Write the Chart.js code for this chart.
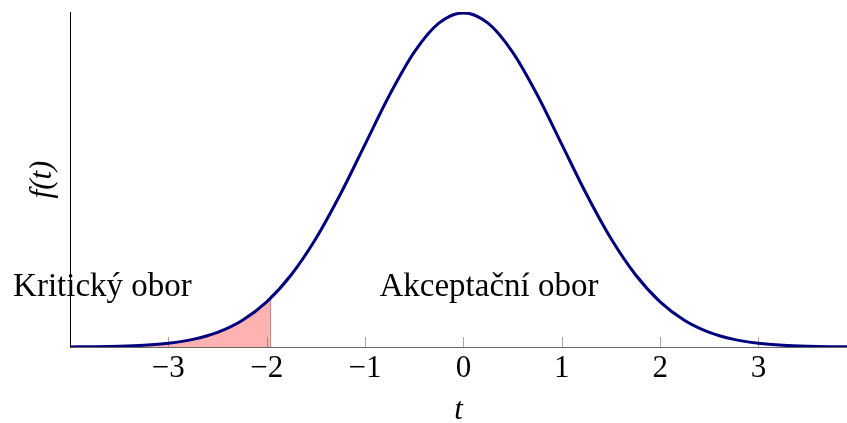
<!DOCTYPE html>
<html>
<head>
<meta charset="utf-8">
<script src="https://cdn.jsdelivr.net/npm/chart.js@4/dist/chart.umd.min.js"></script>
<style>
  html, body { margin: 0; padding: 0; background: #fff; }
  canvas { display: block; }
</style>
</head>
<body>
<canvas id="c" width="847" height="423"></canvas>
<script>
// Density curve f(t), sampled on a grid of t
const tValues = [-4, -3.75, -3.5, -3.25, -3, -2.75, -2.5, -2.25, -2, -1.75, -1.5, -1.25, -1, -0.75, -0.5, -0.25,
                 0, 0.25, 0.5, 0.75, 1, 1.25, 1.5, 1.75, 2, 2.25, 2.5, 2.75, 3, 3.25, 3.5, 3.75, 3.9];
const density = [0.00013, 0.00035, 0.00087, 0.00203, 0.00443, 0.00909, 0.01753, 0.03174, 0.05399, 0.08628,
                 0.12952, 0.18265, 0.24197, 0.30114, 0.35207, 0.38667, 0.39894, 0.38667, 0.35207, 0.30114,
                 0.24197, 0.18265, 0.12952, 0.08628, 0.05399, 0.03174, 0.01753, 0.00909, 0.00443, 0.00203,
                 0.00087, 0.00035, 0.0002];

// Critical region (left tail up to the critical value)
const criticalValue = -1.96;
const criticalDensity = 0.05844;
const critT = [-4, -3.75, -3.5, -3.25, -3, -2.75, -2.5, -2.25, -2, -1.96];
const critF = [0.00013, 0.00035, 0.00087, 0.00203, 0.00443, 0.00909, 0.01753, 0.03174, 0.05399, 0.05844];

// Axis ticks and labels
const xTicks = [-3, -2, -1, 0, 1, 2, 3];
const regionLabels = ['Kritický obor', 'Akceptační obor'];
const regionLabelT = [-3.67, 0.26];
const regionLabelY = 0.061;

const toPoints = (xs, ys) => xs.map((x, i) => ({ x: x, y: ys[i] }));
const fmtTick = v => (v < 0 ? '\u2212' + Math.abs(v) : String(v));

const SERIF = '"Liberation Serif", "DejaVu Serif", serif';

const tickMarks = {
  id: 'tickMarks',
  beforeDatasetsDraw(chart) {
    const { ctx, chartArea, scales } = chart;
    ctx.save();
    ctx.strokeStyle = '#a8a8a8';
    ctx.lineWidth = 1;
    xTicks.forEach(v => {
      const px = Math.round(scales.x.getPixelForValue(v)) + 0.5;
      ctx.beginPath();
      ctx.moveTo(px, chartArea.bottom);
      ctx.lineTo(px, chartArea.bottom - 10);
      ctx.stroke();
    });
    ctx.restore();
  }
};

const regionText = {
  id: 'regionText',
  afterDatasetsDraw(chart) {
    const { ctx, scales } = chart;
    ctx.save();
    ctx.font = '33px ' + SERIF;
    ctx.fillStyle = '#000';
    ctx.textAlign = 'center';
    ctx.textBaseline = 'alphabetic';
    regionLabels.forEach((txt, i) => {
      ctx.fillText(txt, scales.x.getPixelForValue(regionLabelT[i]), scales.y.getPixelForValue(regionLabelY));
    });
    ctx.restore();
  }
};

new Chart(document.getElementById('c'), {
  type: 'line',
  data: {
    datasets: [
      {
        label: 'f(t)',
        data: toPoints(tValues, density),
        borderColor: '#00007f',
        borderWidth: 3,
        pointRadius: 0,
        fill: false,
        cubicInterpolationMode: 'monotone'
      },
      {
        label: 'Kritický obor',
        data: toPoints(critT, critF),
        borderWidth: 0,
        borderColor: 'rgba(0,0,0,0)',
        backgroundColor: 'rgba(255,0,0,0.3)',
        pointRadius: 0,
        fill: 'origin',
        cubicInterpolationMode: 'monotone'
      },
      {
        label: 'hranice',
        data: [{ x: criticalValue, y: 0 }, { x: criticalValue, y: criticalDensity }],
        borderColor: '#9a9a9a',
        borderWidth: 1,
        pointRadius: 0,
        fill: false
      }
    ]
  },
  options: {
    responsive: false,
    animation: false,
    layout: { padding: { top: 12, right: 0, bottom: 0, left: 0 } },
    plugins: { legend: { display: false }, tooltip: { enabled: false } },
    scales: {
      x: {
        type: 'linear',
        min: -4,
        max: 3.9,
        afterBuildTicks: s => { s.ticks = xTicks.map(v => ({ value: v })); },
        afterFit: s => { s.height = 76; },
        grid: { display: true, drawOnChartArea: false, drawTicks: false },
        border: { display: true, color: '#666', width: 1 },
        ticks: {
          padding: 6,
          maxRotation: 0,
          autoSkip: false,
          color: '#000',
          font: { family: SERIF, size: 31, lineHeight: 1 },
          callback: fmtTick
        },
        title: {
          display: true,
          text: 't',
          color: '#000',
          padding: { top: 0, bottom: 0 },
          font: { family: SERIF, size: 31, style: 'italic', lineHeight: 0.8 }
        }
      },
      y: {
        type: 'linear',
        min: 0,
        max: 0.4,
        afterFit: s => { s.width = 70; },
        grid: { display: true, drawOnChartArea: false, drawTicks: false },
        border: { display: true, color: '#000', width: 1 },
        ticks: { display: false },
        title: {
          display: true,
          text: 'f(t)',
          color: '#000',
          padding: { top: 27, bottom: 0 },
          font: { family: SERIF, size: 31, style: 'italic', lineHeight: 1 }
        }
      }
    }
  },
  plugins: [tickMarks, regionText]
});
</script>
</body>
</html>
